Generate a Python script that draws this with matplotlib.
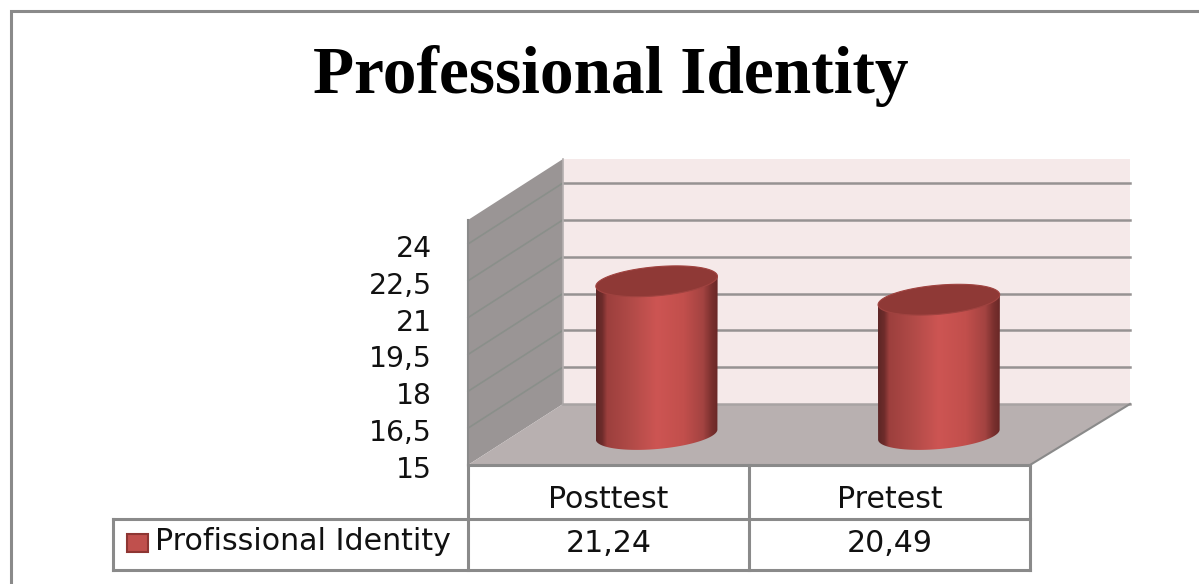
import numpy as np
import matplotlib
matplotlib.use('Agg')
import matplotlib.pyplot as plt
from matplotlib.patches import Polygon, Rectangle
from matplotlib.colors import LinearSegmentedColormap

categories = ['Posttest', 'Pretest']
values = [21.24, 20.49]
value_labels = ['21,24', '20,49']
series_name = 'Profissional Identity'
title = 'Professional Identity'
tick_values = [15, 16.5, 18, 19.5, 21, 22.5, 24]
tick_labels = ['15', '16,5', '18', '19,5', '21', '22,5', '24']

# box geometry in image pixels
FRONT_L, FRONT_R, FRONT_Y = 468, 1030, 465
DX, DY, BACK_GROW = 95, -61, 5
PX_PER_UNIT = 221 / 9
WALL_TOP = 24 + 24 / PX_PER_UNIT
BASE = tick_values[0]
LINE = '#8a8a8a'
TEXT_FONT = ['DejaVu Sans']
TEXT_SIZE = 20.3
TABLE_SIZE = 21.6

def project(cat, val, depth=0.0):
    # cat in category units, val in chart units, depth 0 front to 1 back
    width = FRONT_R - FRONT_L + BACK_GROW * depth
    x = FRONT_L + width * cat / len(categories) + DX * depth
    y = FRONT_Y + DY * depth - (val - BASE) * PX_PER_UNIT
    return x, y

n = len(categories)
fig = plt.figure(figsize=(11.99, 5.84), dpi=100)
ax = fig.add_axes([0, 0, 1, 1])
ax.set_xlim(0, 1199)
ax.set_ylim(584, 0)
ax.axis('off')

# outer frame, only top and left edges are in the picture
ax.plot([10.5, 10.5, 1199], [584, 10.5, 10.5], color=LINE, lw=2.2, solid_joinstyle='miter')

# walls and floor
ax.add_patch(Polygon([project(0, BASE, 1), project(n, BASE, 1), project(n, WALL_TOP, 1), project(0, WALL_TOP, 1)],
                     fc='#f5e9e9', ec='none', zorder=1))
ax.add_patch(Polygon([project(0, BASE, 0), project(0, WALL_TOP, 0), project(0, WALL_TOP, 1), project(0, BASE, 1)],
                     fc='#9a9595', ec='none', zorder=1))
ax.add_patch(Polygon([project(0, BASE, 0), project(n, BASE, 0), project(n, BASE, 1), project(0, BASE, 1)],
                     fc='#b8b0b0', ec='none', zorder=2))

# gridlines on both walls
for v in tick_values[1:]:
    xs, ys = zip(project(0, v, 0), project(0, v, 1))
    ax.plot(xs, ys, color='#8a8f8a', lw=1.2, zorder=1.5)
    xs, ys = zip(project(0, v, 1), project(n, v, 1))
    ax.plot(xs, ys, color='#969292', lw=1.8, zorder=1.5)
xs, ys = zip(project(0, BASE, 1), project(n, BASE, 1))
ax.plot(xs, ys, color='#a8a3a3', lw=1.8, zorder=2.5)
xs, ys = zip(project(n, BASE, 1), project(n, BASE, 0))
ax.plot(xs, ys, color=LINE, lw=1.5, zorder=2.5)
xs, ys = zip(project(0, BASE, 0), project(0, WALL_TOP, 0))
ax.plot(xs, ys, color=LINE, lw=1.5, zorder=2.5)
xs, ys = zip(project(0, WALL_TOP, 1), project(0, BASE, 1))
ax.plot(xs, ys, color='#b5b0b0', lw=1.2, zorder=1.5)

# cylinders
shade = LinearSegmentedColormap.from_list('shade', [
    (0, '#5e2626'), (0.05, '#6e2c2b'), (0.09, '#9c3f3d'), (0.28, '#b04a47'), (0.5, '#cd5553'),
    (0.72, '#c24f4c'), (0.88, '#a34341'), (0.95, '#7a302e'), (1, '#692827')])
RX, RY, TILT = 61, 14.5, -5
for i, val in enumerate(values):
    cx, y_base = project(i + 0.5, BASE, 0.5)
    _, y_top = project(i + 0.5, val, 0.5)
    t = np.radians(np.linspace(0, 360, 181))
    ex = RX * np.cos(t)
    ey = RY * np.sin(t)
    a = np.radians(TILT)
    rx = ex * np.cos(a) - ey * np.sin(a)
    ry = ex * np.sin(a) + ey * np.cos(a)
    top = [(cx + p, y_top + q) for p, q in zip(rx, ry)]
    im = ax.imshow(np.linspace(0, 1, 256)[None, :], cmap=shade, aspect='auto', zorder=3.2,
                   extent=(cx - RX, cx + RX, y_base + 20, y_top - 20))
    # side of the cylinder plus the lower half of its bottom rim
    half = np.linspace(0, 180, 91)
    rim = [(cx + RX * np.cos(np.radians(h)) * np.cos(a) - RY * np.sin(np.radians(h)) * np.sin(a),
            y_base + RX * np.cos(np.radians(h)) * np.sin(a) + RY * np.sin(np.radians(h)) * np.cos(a)) for h in half]
    clip = Polygon([(cx - RX, y_top + 5), (cx + RX, y_top - 5)] + rim, transform=ax.transData)
    im.set_clip_path(clip)
    ax.add_patch(Polygon(top, fc='#8f3936', ec='#a04340', lw=0.8, zorder=3.4))

ax.set_xlim(0, 1199)
ax.set_ylim(584, 0)

# axis labels sit on the front edge of the left wall
for v, lab in zip(tick_values, tick_labels):
    _, y = project(0, v, 0)
    ax.text(432, y + 5, lab, ha='right', va='center', fontsize=TEXT_SIZE, family=TEXT_FONT, color='#111111', zorder=5)

ax.text(611, 93, title, ha='center', va='baseline', fontsize=48.5, fontweight='bold',
        family=['Liberation Serif', 'DejaVu Serif'], color='black')

# data table under the chart
TAB_MID, TAB_BOT = 519, 570
LEFT = 113
mid_x = project(1, BASE, 0)[0]
for x in [FRONT_L, mid_x, FRONT_R]:
    ax.plot([x, x], [FRONT_Y, TAB_BOT], color=LINE, lw=2.2, zorder=4)
ax.plot([FRONT_L, FRONT_R], [FRONT_Y, FRONT_Y], color=LINE, lw=2.2, zorder=4)
ax.plot([LEFT, FRONT_R], [TAB_MID, TAB_MID], color=LINE, lw=2.2, zorder=4)
ax.plot([LEFT, FRONT_R], [TAB_BOT, TAB_BOT], color=LINE, lw=2.2, zorder=4)
ax.plot([LEFT, LEFT], [TAB_MID, TAB_BOT], color=LINE, lw=2.2, zorder=4)

for i, (cat, lab) in enumerate(zip(categories, value_labels)):
    x = project(i + 0.5, BASE, 0)[0]
    ax.text(x, 499, cat, ha='center', va='center', fontsize=TABLE_SIZE, family=TEXT_FONT, color='#111111')
    ax.text(x, 543, lab, ha='center', va='center', fontsize=TABLE_SIZE, family=TEXT_FONT, color='#111111')

ax.add_patch(Rectangle((127, 534), 21, 18, fc='#c0504d', ec='#8e3633', lw=1.5, zorder=4))
ax.text(155, 542, series_name, ha='left', va='center', fontsize=TABLE_SIZE, family=TEXT_FONT, color='#111111')

fig.savefig('out.png', dpi=100)
